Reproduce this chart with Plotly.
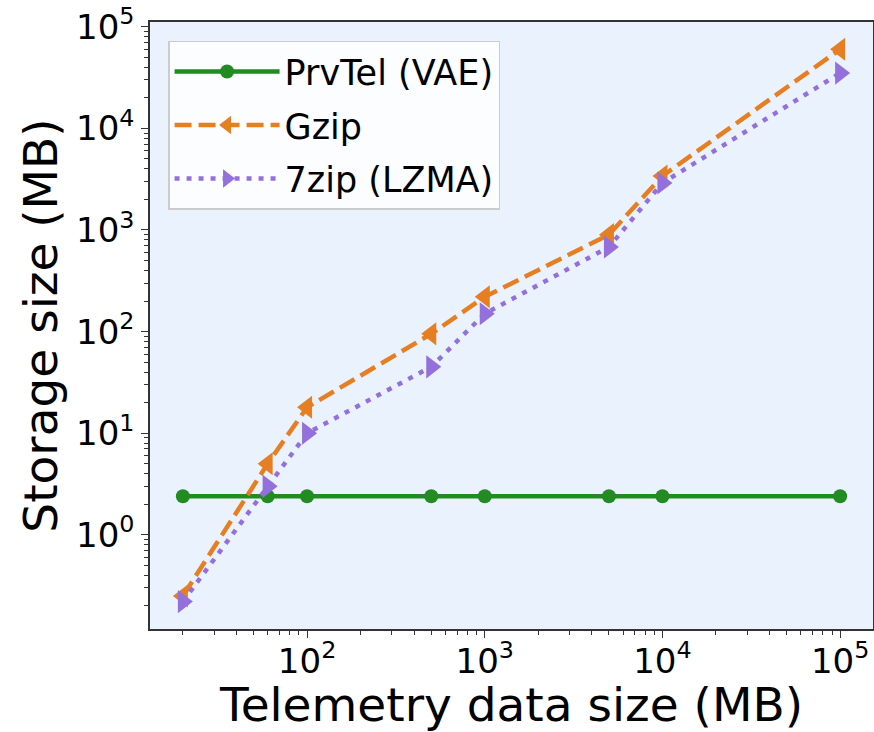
import plotly.graph_objects as go

# ---- data ----
data_size_mb = [20, 60, 100, 500, 1000, 5000, 10000, 100000]
prvtel_vae = [2.4, 2.4, 2.4, 2.4, 2.4, 2.4, 2.4, 2.4]
gzip_size = [0.25, 5.0, 18, 95, 220, 900, 3400, 60000]
lzma_7zip = [0.22, 3.0, 10, 45, 150, 680, 2900, 35000]

series_names = ["PrvTel (VAE)", "Gzip", "7zip (LZMA)"]

x_tick_vals = [1e2, 1e3, 1e4, 1e5]
x_tick_text = ["10<sup>2</sup>", "10<sup>3</sup>", "10<sup>4</sup>", "10<sup>5</sup>"]
y_tick_vals = [1e0, 1e1, 1e2, 1e3, 1e4, 1e5]
y_tick_text = ["10<sup>0</sup>", "10<sup>1</sup>", "10<sup>2</sup>", "10<sup>3</sup>",
               "10<sup>4</sup>", "10<sup>5</sup>"]

x_title = "Telemetry data size (MB)"
y_title = "Storage size (MB)"

# ---- styling ----
FONT = "DejaVu Sans"
GREEN = "#228B22"
ORANGE = "#E67E22"
PURPLE = "#9370DB"
BG = "#EAF2FD"
AXC = "#333333"

def minor_vals(lo_exp, hi_exp):
    out = []
    for e in range(lo_exp, hi_exp + 1):
        for k in range(2, 10):
            out.append(k * 10 ** e)
    return out

fig = go.Figure()
fig.add_trace(go.Scatter(
    x=data_size_mb, y=prvtel_vae, name=series_names[0], mode="lines+markers",
    line=dict(color=GREEN, width=4.5),
    marker=dict(symbol="circle", size=14, color=GREEN),
    legendgroup="a"))
fig.add_trace(go.Scatter(
    x=data_size_mb, y=gzip_size, name=series_names[1], mode="lines+markers",
    line=dict(color=ORANGE, width=4.5, dash="17px,7px"),
    marker=dict(symbol="triangle-left", size=20, color=ORANGE),
    legendgroup="b"))
fig.add_trace(go.Scatter(
    x=data_size_mb, y=lzma_7zip, name=series_names[2], mode="lines+markers",
    line=dict(color=PURPLE, width=4.5, dash="5px,7px"),
    marker=dict(symbol="triangle-right", size=20, color=PURPLE),
    legendgroup="c"))

axis_common = dict(
    type="log", showgrid=False, zeroline=False,
    showline=True, mirror=True, linecolor=AXC, linewidth=1.5,
    ticks="outside", ticklen=7, tickwidth=1.3, tickcolor=AXC,
    tickfont=dict(family=FONT, size=34, color="black"),
    title_font=dict(family=FONT, size=47, color="black"),
    tickmode="array",
)

fig.update_xaxes(
    **axis_common,
    range=[1.116, 5.185],
    tickvals=x_tick_vals, ticktext=x_tick_text,
    ticklabelstandoff=-6,
    minor=dict(ticks="outside", ticklen=4, tickwidth=1, tickcolor=AXC,
               tickmode="array", tickvals=minor_vals(1, 5)),
    title=dict(text=x_title, standoff=8),
)
fig.update_yaxes(
    **axis_common,
    range=[-0.927, 5.047],
    tickvals=y_tick_vals, ticktext=y_tick_text,
    minor=dict(ticks="outside", ticklen=4, tickwidth=1, tickcolor=AXC,
               tickmode="array", tickvals=minor_vals(-1, 4)),
    title=dict(text=y_title, standoff=4),
)

fig.update_layout(
    width=874, height=732,
    margin=dict(l=150, r=1, t=22, b=103, autoexpand=False),
    plot_bgcolor=BG, paper_bgcolor="white",
    font=dict(family=FONT, color="black"),
    legend=dict(
        x=0.025, y=0.969, xanchor="left", yanchor="top",
        font=dict(family=FONT, size=35, color="black"),
        bgcolor="rgba(255,255,255,0.8)", bordercolor="#cccccc", borderwidth=1.5,
        tracegroupgap=5, itemwidth=105,
    ),
    showlegend=True,
)

fig.write_html("out.html")
